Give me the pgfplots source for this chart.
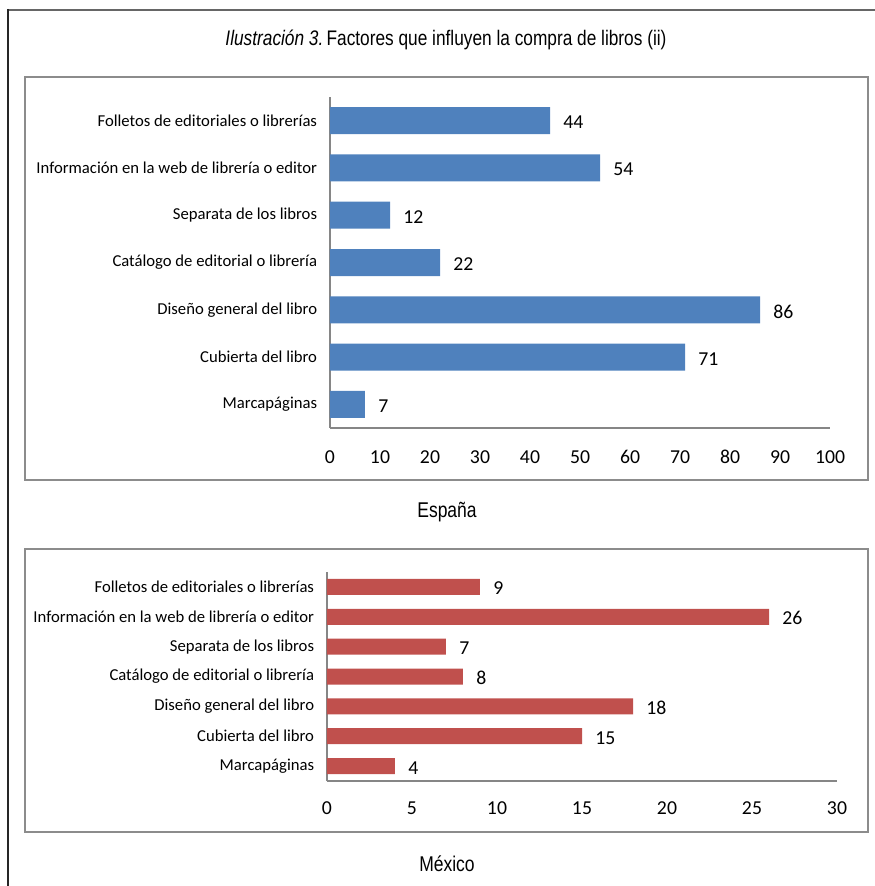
\documentclass[border=0pt]{standalone}
\usepackage{fontspec}
\setmainfont{Carlito}
\newfontfamily\narrow[FakeStretch=0.82]{Liberation Sans}
\usepackage{pgfplots}
\pgfplotsset{compat=1.18}
\definecolor{barblue}{HTML}{4F81BD}
\definecolor{barred}{HTML}{C0504D}
\definecolor{axgray}{HTML}{868686}
\definecolor{boxgray}{HTML}{8C8C8C}
\pgfplotsset{
  mybar/.style={
    xbar, scale only axis, clip=false,
    ymin=-0.5, ymax=6.5, ytick={0,...,6},
    yticklabels={Marcapáginas, Cubierta del libro, Diseño general del libro, Catálogo de editorial o librería, Separata de los libros, Información en la web de librería o editor, Folletos de editoriales o librerías},
    axis x line*=bottom, axis y line*=left,
    axis line style={axgray, line width=0.9pt, -},
    major tick length=0pt,
    /pgf/number format/assume math mode=true,
    yticklabel style={anchor=east, inner sep=0pt, xshift=-9.5pt, font=\fontsize{12.5}{15}\selectfont},
    xticklabel style={anchor=center, font=\fontsize{14.8}{17}\selectfont},
    nodes near coords,
    every node near coord/.append style={anchor=west, inner sep=0pt, xshift=9.75pt, yshift=-1.2pt, font=\fontsize{14.8}{17}\selectfont, text=black},
  }
}
\begin{document}
\begin{tikzpicture}[x=0.75pt,y=0.75pt]
\path[use as bounding box] (0,0) rectangle (875,886);
\draw[line width=2pt, color=black!60] (7,876) -- (875,876);
\draw[line width=1.2pt, black!85] (8,877) -- (8,0);
\draw[line width=1.2pt, boxgray] (25,809) rectangle (868,406);
\draw[line width=1.2pt, boxgray] (25,337) rectangle (868,54);
\node[font=\narrow\fontsize{15.8}{18}\selectfont] at (446,846) {\textit{Ilustración 3.}\hspace{-0.15em} Factores que influyen la compra de libros (ii)};
\node[font=\narrow\fontsize{16}{18}\selectfont] at (447,374) {España};
\node[font=\narrow\fontsize{16}{18}\selectfont] at (447,22) {México};

\begin{axis}[mybar, at={(247.5pt,343.5pt)}, anchor=south west,
  width=375pt, height=248.25pt, bar width=20.25pt,
  xmin=0, xmax=100, xtick={0,10,...,100},
  xticklabel style={yshift=-21.75pt}]
\addplot[fill=barblue, draw=none] coordinates {(7,0) (71,1) (86,2) (22,3) (12,4) (54,5) (44,6)};
\end{axis}

\begin{axis}[mybar, at={(245.25pt,78.75pt)}, anchor=south west,
  width=382.5pt, height=156.75pt, bar width=12pt,
  xmin=0, xmax=30, xtick={0,5,...,30},
  xticklabel style={yshift=-20.25pt}]
\addplot[fill=barred, draw=none] coordinates {(4,0) (15,1) (18,2) (8,3) (7,4) (26,5) (9,6)};
\end{axis}
\end{tikzpicture}
\end{document}
